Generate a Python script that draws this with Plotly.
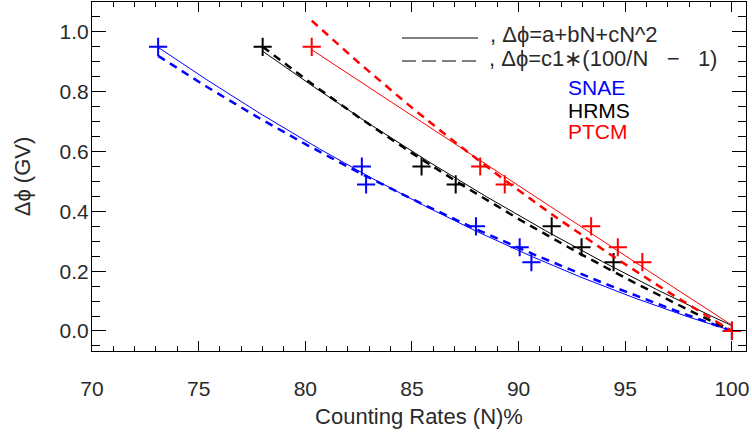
import numpy as np
import plotly.graph_objects as go

# ---- data ----
series = ["SNAE", "HRMS", "PTCM"]
colors = ["#0000ff", "#000000", "#ff0000"]
dphi = [0.95, 0.55, 0.49, 0.35, 0.28, 0.23, 0.0]
n_snae = [73.1, 82.65, 82.85, 88.0, 90.05, 90.6, 100.0]
n_hrms = [78.0, 85.45, 87.05, 91.55, 92.95, 94.45, 100.0]
n_ptcm = [80.3, 88.2, 89.35, 93.4, 94.65, 95.8, 100.0]
# dashed model coefficient c1 in  dphi = c1*(100/N - 1)
c1_vals = [2.50, 3.37, 4.23]

x_ticks = [70, 75, 80, 85, 90, 95, 100]
y_ticks = [0.0, 0.2, 0.4, 0.6, 0.8, 1.0]

FONT = "Liberation Sans"
TXT = "#2a2a2a"
fig = go.Figure()

n_all = [n_snae, n_hrms, n_ptcm]
for name, col, nn, c1 in zip(series, colors, n_all, c1_vals):
    nn = np.array(nn)
    yy = np.array(dphi)
    grid = np.linspace(nn.min(), 100, 200)
    # solid: quadratic fit a + bN + cN^2
    coef = np.polyfit(nn, yy, 2)
    fig.add_trace(go.Scatter(x=grid, y=np.polyval(coef, grid), mode="lines",
                             line=dict(color=col, width=1), showlegend=False,
                             hoverinfo="skip"))
    # dashed: c1*(100/N - 1)
    fig.add_trace(go.Scatter(x=grid, y=c1 * (100.0 / grid - 1.0), mode="lines",
                             line=dict(color=col, width=2.5, dash="8px,6px"),
                             showlegend=False, hoverinfo="skip"))
    fig.add_trace(go.Scatter(x=nn, y=yy, mode="markers", name=name,
                             marker=dict(symbol="cross-thin", size=13,
                                         line=dict(color=col, width=2)),
                             showlegend=False))

W, H = 752, 434
L, R, T, B = 92, 6, 2, 83
pw, ph = W - L - R, H - T - B

def px(xp):
    return (xp - L) / pw

def py(yp):
    return 1 - (yp - T) / ph

NB = "\u00a0"
# legend line samples
fig.add_shape(type="line", xref="paper", yref="paper", x0=px(402), x1=px(478),
              y0=py(38), y1=py(38), line=dict(color="black", width=1))
fig.add_shape(type="line", xref="paper", yref="paper", x0=px(402), x1=px(478),
              y0=py(61), y1=py(61), line=dict(color="black", width=1, dash="14px,6px"))

fig.add_annotation(xref="paper", yref="paper", x=px(488), y=py(34), xanchor="left",
                   yanchor="middle", showarrow=False, text="," + NB + "Δϕ=a+bN+cN^2",
                   font=dict(family=FONT, size=22, color=TXT))
fig.add_annotation(xref="paper", yref="paper", x=px(487), y=py(58), xanchor="left",
                   yanchor="middle", showarrow=False,
                   text="," + NB + "Δϕ=c1∗(100/N" + NB * 3 + "−" + NB * 3 + "1)",
                   font=dict(family=FONT, size=22, color=TXT))
for i, (name, col) in enumerate(zip(series, colors)):
    fig.add_annotation(xref="paper", yref="paper", x=px(566), y=py(88 + 22 * i),
                       xanchor="left", yanchor="middle", showarrow=False, text=name,
                       font=dict(family=FONT, size=21, color=col))

axis_common = dict(showgrid=False, zeroline=False, showline=True, linecolor="black",
                   linewidth=1, mirror="allticks", ticks="inside", tickcolor="black",
                   tickfont=dict(family=FONT, size=21, color=TXT))

fig.update_xaxes(range=[70, 100.66], tickvals=x_ticks, ticklen=10,
                 minor=dict(dtick=1, ticklen=5, ticks="inside", tickcolor="black"),
                 title=dict(text="Counting Rates (N)%", font=dict(family=FONT, size=22, color=TXT),
                            standoff=9),
                 ticklabelstandoff=19,
                 **axis_common)
fig.update_yaxes(range=[-0.067, 1.1], tickvals=y_ticks, tickformat=".1f", ticklen=14,
                 minor=dict(dtick=0.05, tick0=0, ticklen=8, ticks="inside", tickcolor="black"),
                 title=dict(text="Δϕ (GV)", font=dict(family=FONT, size=22, color=TXT),
                            standoff=22),
                 ticklabelstandoff=-2,
                 **axis_common)

fig.update_layout(width=W, height=H, margin=dict(l=L, r=R, t=T, b=B, autoexpand=False),
                  paper_bgcolor="white", plot_bgcolor="white", showlegend=False)

fig.write_html("out.html")
